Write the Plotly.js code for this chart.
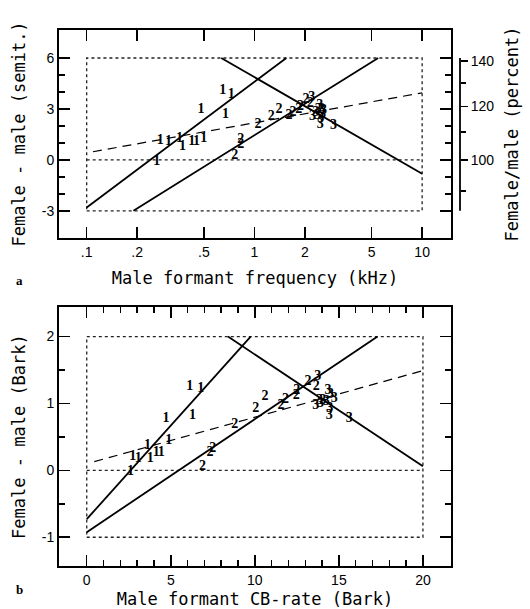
<!DOCTYPE html>
<html><head><meta charset="utf-8">
<script src="https://cdn.plot.ly/plotly-3.0.1.min.js"></script>
<style>html,body{margin:0;padding:0;background:#fff}#plot{width:530px;height:609px}</style>
</head><body><div id="plot"></div>
<script>
// ---------- Panel a: semitones vs male formant frequency (kHz) ----------
const aF1x = [0.262, 0.275, 0.308, 0.358, 0.372, 0.423, 0.451, 0.48, 0.498, 0.648, 0.673, 0.728];
const aF1y = [-0.08, 1.17, 1.07, 1.27, 0.81, 1.11, 1.11, 2.96, 1.27, 4.09, 2.66, 3.85];
const aF2x = [0.764, 0.828, 0.828, 1.05, 1.26, 1.40, 1.61, 1.70, 1.84, 1.88, 2.03, 2.15];
const aF2y = [0.25, 0.89, 1.19, 2.07, 2.56, 2.95, 2.60, 2.81, 2.95, 3.13, 3.55, 3.30];
const aF3x = [2.20, 2.22, 2.32, 2.38, 2.40, 2.45, 2.52, 2.58, 2.55, 2.49, 2.47, 2.96];
const aF3y = [3.65, 2.56, 2.80, 2.62, 2.95, 3.20, 2.98, 2.90, 2.70, 2.45, 2.10, 2.05];
const aLineF1x = [0.1, 1.55],  aLineF1y = [-2.8, 6];
const aLineF2x = [0.19, 5.47], aLineF2y = [-3, 6];
const aLineF3x = [0.634, 10],  aLineF3y = [6, -0.82];
const aLineAllx = [0.109, 10], aLineAlly = [0.48, 3.95];
const aBoxX = [0.1, 10, 10, 0.1, 0.1], aBoxY = [-3, -3, 6, 6, -3];
const aZeroX = [0.1, 10], aZeroY = [0, 0];
const aTickVals = [0.1, 0.2, 0.5, 1, 2, 5, 10];
const aTickText = ['.1', '.2', '.5', '1', '2', '5', '10'];
const aYTicks = [-3, 0, 3, 6];
const aYMinor = [-2, -1, 1, 2, 4, 5];
const pctMajor = [100, 120, 140];
const pctMinor = [90, 110, 130];
const pctAxisSpan = [-3, 6];

// ---------- Panel b: Bark vs male formant CB-rate ----------
const bF1x = [2.61, 2.73, 3.07, 3.61, 3.78, 4.14, 4.44, 4.72, 4.88, 6.13, 6.29, 6.79];
const bF1y = [-0.02, 0.21, 0.18, 0.37, 0.17, 0.27, 0.27, 0.77, 0.45, 1.26, 0.82, 1.23];
const bF2x = [6.89, 7.33, 7.49, 8.80, 10.05, 10.6, 11.55, 11.82, 12.47, 12.5, 13.16, 13.65];
const bF2y = [0.05, 0.26, 0.33, 0.68, 0.92, 1.10, 0.97, 1.06, 1.12, 1.20, 1.33, 1.26];
const bF3x = [13.62, 13.75, 13.85, 13.9, 14.05, 14.25, 14.35, 14.5, 14.72, 14.45, 14.42, 15.62];
const bF3y = [0.97, 1.40, 1.05, 1.0, 1.05, 1.03, 1.20, 1.14, 1.08, 0.93, 0.82, 0.77];
const bLineF1x = [0, 9.75],  bLineF1y = [-0.73, 2];
const bLineF2x = [0, 17.3],  bLineF2y = [-0.925, 2];
const bLineF3x = [8.4, 20],  bLineF3y = [2, 0.06];
const bLineAllx = [0.45, 20], bLineAlly = [0.13, 1.49];
const bBoxX = [0, 20, 20, 0, 0], bBoxY = [-1, -1, 2, 2, -1];
const bZeroX = [0, 20], bZeroY = [0, 0];
const bXTicks = [0, 5, 10, 15, 20];
const bXMinor = [1,2,3,4,6,7,8,9,11,12,13,14,16,17,18,19];
const bYTicks = [-1, 0, 1, 2];
const bYMinor = [-0.5, 0.5, 1.5];

const semit = p => 12 * Math.log2(p / 100);

const digitFont = {family: 'Liberation Serif', size: 14, color: '#000', weight: 'bold'};
function pts(x, y, label, xa, ya) {
  return {x, y, xaxis: xa, yaxis: ya, mode: 'text', text: x.map(() => label),
    textposition: 'middle center', textfont: digitFont, showlegend: false, hoverinfo: 'skip', type: 'scatter'};
}
function ln(x, y, xa, ya, dash, w, c) {
  return {x, y, xaxis: xa, yaxis: ya, mode: 'lines', line: {color: c || '#000', width: w, dash: dash},
    showlegend: false, hoverinfo: 'skip', type: 'scatter'};
}

const traces = [
  ln(aBoxX, aBoxY, 'x', 'y', 'dot', 1.3, '#222'),
  ln(aZeroX, aZeroY, 'x', 'y', 'dot', 1.3, '#222'),
  ln(aLineF1x, aLineF1y, 'x', 'y', 'solid', 1.8),
  ln(aLineF2x, aLineF2y, 'x', 'y', 'solid', 1.8),
  ln(aLineF3x, aLineF3y, 'x', 'y', 'solid', 1.8),
  ln(aLineAllx, aLineAlly, 'x', 'y', '9px,6px', 1.2),
  pts(aF1x, aF1y, '1', 'x', 'y'),
  pts(aF2x, aF2y, '2', 'x', 'y'),
  pts(aF3x, aF3y, '3', 'x', 'y'),
  ln(bBoxX, bBoxY, 'x2', 'y2', 'dot', 1.3, '#222'),
  ln(bZeroX, bZeroY, 'x2', 'y2', 'dot', 1.3, '#222'),
  ln(bLineF1x, bLineF1y, 'x2', 'y2', 'solid', 1.8),
  ln(bLineF2x, bLineF2y, 'x2', 'y2', 'solid', 1.8),
  ln(bLineF3x, bLineF3y, 'x2', 'y2', 'solid', 1.8),
  ln(bLineAllx, bLineAlly, 'x2', 'y2', '9px,6px', 1.2),
  pts(bF1x, bF1y, '1', 'x2', 'y2'),
  pts(bF2x, bF2y, '2', 'x2', 'y2'),
  pts(bF3x, bF3y, '3', 'x2', 'y2'),
  // invisible trace to activate the right-hand percent axis
  {x: [0.1], y: [0], xaxis: 'x', yaxis: 'y3', mode: 'markers', marker: {opacity: 0}, showlegend: false, hoverinfo: 'skip', type: 'scatter'}
];

// geometry: plot frame from x=59 to 451 px; paper from 59 to 490
const W = 530 - 59 - 40;
const dom = 392 / W;
const pctPos = (460 - 59) / W;

const tickFont = {family: 'Liberation Sans, Arial', size: 14, color: '#000'};
const titleFont = {family: 'DejaVu Sans Mono', size: 17, color: '#000'};
const frame = {showline: true, linecolor: '#000', linewidth: 2, mirror: 'ticks', ticks: 'inside',
  tickcolor: '#000', tickwidth: 1.5, showgrid: false, zeroline: false, tickfont: tickFont};
const aRange = [-4.6, 7.65];

const layout = {
  width: 530, height: 609,
  margin: {l: 59, r: 40, t: 30, b: 43},
  paper_bgcolor: '#fff', plot_bgcolor: '#fff',
  showlegend: false,
  xaxis: Object.assign({}, frame, {type: 'log', domain: [0, dom], anchor: 'y', range: [-1.165, 1.172],
    tickmode: 'array', tickvals: aTickVals, ticktext: aTickText, ticklen: 11,
    title: {text: 'Male formant frequency (kHz)', font: titleFont, standoff: 13}}),
  yaxis: Object.assign({}, frame, {domain: [0.612, 1], anchor: 'x', range: aRange,
    tickmode: 'array', tickvals: aYTicks, ticktext: aYTicks.map(v => v < 0 ? '-' + Math.abs(v) : String(v)), ticklen: 11,
    minor: {tickvals: aYMinor, ticklen: 6, ticks: 'inside', tickcolor: '#000', tickwidth: 1.5},
    title: {text: 'Female - male (semit.)', font: titleFont, standoff: 12}}),
  yaxis3: {overlaying: 'y', anchor: 'free', position: pctPos, side: 'right', range: aRange,
    showline: false, showgrid: false, zeroline: false, ticks: 'outside', ticklen: 7, tickwidth: 1.5, tickcolor: '#000',
    tickmode: 'array', tickvals: pctMajor.map(semit), ticktext: pctMajor.map(String), tickfont: tickFont,
    minor: {tickvals: pctMinor.map(semit), ticklen: 5, ticks: 'outside', tickcolor: '#000', tickwidth: 1.5},
    title: {text: 'Female/male (percent)', font: titleFont, standoff: 12}},
  xaxis2: Object.assign({}, frame, {domain: [0, dom], anchor: 'y2', range: [-1.65, 21.67],
    tickmode: 'array', tickvals: bXTicks, ticklen: 11,
    minor: {tickvals: bXMinor, ticklen: 6, ticks: 'inside', tickcolor: '#000', tickwidth: 1.5},
    title: {text: 'Male formant CB-rate (Bark)', font: titleFont, standoff: 8}}),
  yaxis2: Object.assign({}, frame, {domain: [0, 0.483], anchor: 'x2', range: [-1.43, 2.44],
    tickmode: 'array', tickvals: bYTicks, ticktext: bYTicks.map(v => v < 0 ? '-' + Math.abs(v) : String(v)), ticklen: 11,
    minor: {tickvals: bYMinor, ticklen: 6, ticks: 'inside', tickcolor: '#000', tickwidth: 1.5},
    title: {text: 'Female - male (Bark)', font: titleFont, standoff: 12}}),
  shapes: [
    {type: 'line', xref: 'paper', yref: 'y', x0: pctPos, x1: pctPos, y0: pctAxisSpan[0], y1: pctAxisSpan[1], line: {color: '#000', width: 1.8}}
  ],
  annotations: [
    {text: '<b>a</b>', xref: 'paper', yref: 'paper', x: (14 - 59) / W, y: 0.532, showarrow: false,
      font: {family: 'Liberation Serif', size: 13, color: '#000'}},
    {text: '<b>b</b>', xref: 'paper', yref: 'paper', x: (14 - 59) / W, y: -0.062, showarrow: false,
      font: {family: 'Liberation Serif', size: 13, color: '#000'}}
  ]
};

Plotly.newPlot('plot', traces, layout, {staticPlot: true, displayModeBar: false});
</script>
</body></html>
